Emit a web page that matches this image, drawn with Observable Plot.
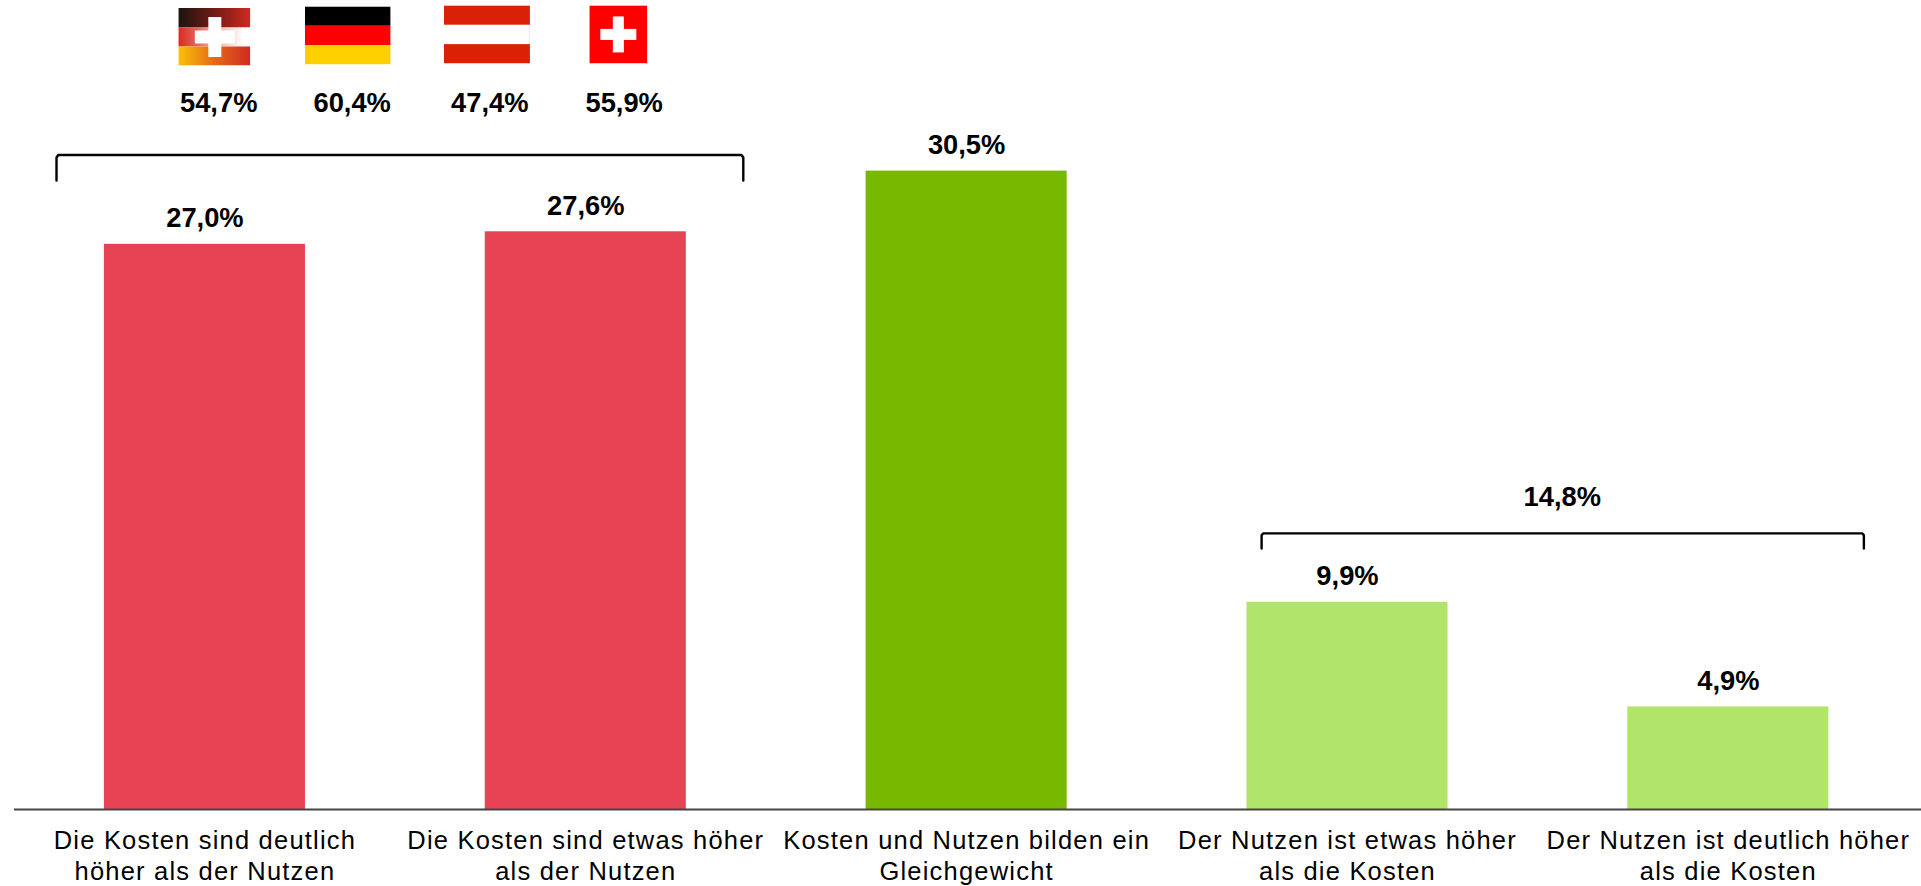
<!DOCTYPE html>
<html><head><meta charset="utf-8">
<style>html,body{margin:0;padding:0;background:#fff}svg{display:block}
g[aria-label="x-axis tick label"]{letter-spacing:1.2px}</style>
<script src="https://cdn.jsdelivr.net/npm/d3@7"></script>
<script src="https://cdn.jsdelivr.net/npm/@observablehq/plot@0.6"></script>
</head><body><div id="chart"></div>
<script>
const categories = [
  "Die Kosten sind deutlich\nhöher als der Nutzen",
  "Die Kosten sind etwas höher\nals der Nutzen",
  "Kosten und Nutzen bilden ein\nGleichgewicht",
  "Der Nutzen ist etwas höher\nals die Kosten",
  "Der Nutzen ist deutlich höher\nals die Kosten"
];
const values = [27.0, 27.6, 30.5, 9.9, 4.9];
const barColors = ["#E84355", "#E84355", "#78B800", "#B1E56A", "#B1E56A"];
const countryValues = ["54,7%", "60,4%", "47,4%", "55,9%"];
const fmt = v => v.toFixed(1).replace(".", ",") + "%";

// Position of the annotations in chart units (x: category index, y: percent)
const halfBar = 0.264;
const bracketCosts = [[-0.3897, 30.05], [-0.3897, 31.15], [-0.385, 31.27], [1.409, 31.27], [1.4136, 31.15], [1.4136, 30.05]];
const bracketBenefit = [[2.7745, 12.47], [2.7745, 13.1], [2.7785, 13.19], [4.352, 13.19], [4.3559, 13.1], [4.3559, 12.47]];
const sumBenefit = {x: 3.564, y: 13.19, label: "14,8%"};
const countryX = [0.0362, 0.3866, 0.748, 1.1008];
const countryLabelY = 33.32;

const svgUri = s => "data:image/svg+xml;utf8," + encodeURIComponent(s);
const cross = (cx, cy, len, th) =>
  `<rect x="${cx-th/2}" y="${cy-len/2}" width="${th}" height="${len}" fill="#fff"/><rect x="${cx-len/2}" y="${cy-th/2}" width="${len}" height="${th}" fill="#fff"/>`;
const flagMixed = svgUri(`<svg xmlns="http://www.w3.org/2000/svg" width="72" height="58" viewBox="0 0 72 58"><defs>
<linearGradient id="a"><stop offset="0" stop-color="#1c1410"/><stop offset=".55" stop-color="#7a1d16"/><stop offset="1" stop-color="#cf2a20"/></linearGradient>
<linearGradient id="b"><stop offset="0" stop-color="#da2a1e"/><stop offset=".25" stop-color="#e2635c"/><stop offset=".55" stop-color="#f0b5b0"/><stop offset=".9" stop-color="#fff"/></linearGradient>
<linearGradient id="c"><stop offset="0" stop-color="#f8c208"/><stop offset=".5" stop-color="#e56a18"/><stop offset="1" stop-color="#cf2a20"/></linearGradient>
<filter id="f"><feGaussianBlur stdDeviation=".5"/></filter></defs>
<rect width="72" height="20" fill="url(#a)"/><rect y="20" width="72" height="19" fill="url(#b)"/><rect y="39" width="72" height="19" fill="url(#c)"/>
<g filter="url(#f)">${cross(36.5,29.5,40,13)}</g></svg>`);
const flagGermany = svgUri(`<svg xmlns="http://www.w3.org/2000/svg" width="86" height="58" viewBox="0 0 86 58"><rect width="86" height="19.3" fill="#000"/><rect y="19.3" width="86" height="19.4" fill="#f00"/><rect y="38.7" width="86" height="19.3" fill="#ffd000"/></svg>`);
const flagAustria = svgUri(`<svg xmlns="http://www.w3.org/2000/svg" width="86" height="58" viewBox="0 0 86 58"><rect width="86" height="58" fill="#da2106"/><rect y="19.3" width="86" height="19.4" fill="#fff"/></svg>`);
const flagSwiss = svgUri(`<svg xmlns="http://www.w3.org/2000/svg" width="58" height="58" viewBox="0 0 58 58"><rect width="58" height="58" fill="#f00"/>${cross(29,29,36,11)}</svg>`);
const flags = [
  {x: 0.0247, y: 36.93, src: flagMixed, w: 72, h: 58},
  {x: 0.3747, y: 36.98, src: flagGermany, w: 86, h: 58},
  {x: 0.7405, y: 37.03, src: flagAustria, w: 86, h: 58},
  {x: 1.0855, y: 37.03, src: flagSwiss, w: 58, h: 58}
];

const rows = categories.map((c, i) => ({i, value: values[i], color: barColors[i]}));
const labelFont = {fontFamily: "Liberation Sans, Arial, sans-serif", fontWeight: "bold", fontSize: 27.3, fill: "#000", textAnchor: "middle", lineAnchor: "bottom"};

const chart = Plot.plot({
  width: 1921, height: 886,
  marginLeft: 14, marginRight: 0, marginTop: 0, marginBottom: 77,
  style: {background: "#fff", overflow: "visible"},
  x: {domain: [-0.5, 4.5072], axis: null},
  y: {domain: [0, 38.65], axis: null},
  marks: [
    Plot.rectY(rows, {x1: d => d.i - halfBar, x2: d => d.i + halfBar, y1: 0, y2: "value", fill: "color"}),
    Plot.ruleY([0], {stroke: "#444", strokeWidth: 2}),
    Plot.text(rows, {x: "i", y: "value", text: d => fmt(d.value), dy: -17, ...labelFont}),
    Plot.line(bracketCosts, {x: d => d[0], y: d => d[1], stroke: "#000", strokeWidth: 2.4, strokeLinejoin: "round"}),
    Plot.line(bracketBenefit, {x: d => d[0], y: d => d[1], stroke: "#000", strokeWidth: 2.4, strokeLinejoin: "round"}),
    Plot.text([sumBenefit], {x: "x", y: "y", text: "label", dy: -27, ...labelFont}),
    Plot.text(countryValues, {x: (d, i) => countryX[i], y: () => countryLabelY, text: d => d, ...labelFont}),
    Plot.image(flags, {x: "x", y: "y", src: "src", width: "w", height: "h", preserveAspectRatio: "none"}),
    Plot.axisX({
      ticks: d3.range(categories.length), tickSize: 0, tickPadding: 0,
      tickFormat: i => categories[i], label: null, anchor: "bottom",
      fontFamily: "Liberation Sans, Arial, sans-serif", fontSize: 25.5, fill: "#000",
      lineHeight: 1.22, lineAnchor: "top", dy: 17, textOverflow: null
    })
  ]
});
document.getElementById("chart").append(chart);
</script></body></html>
